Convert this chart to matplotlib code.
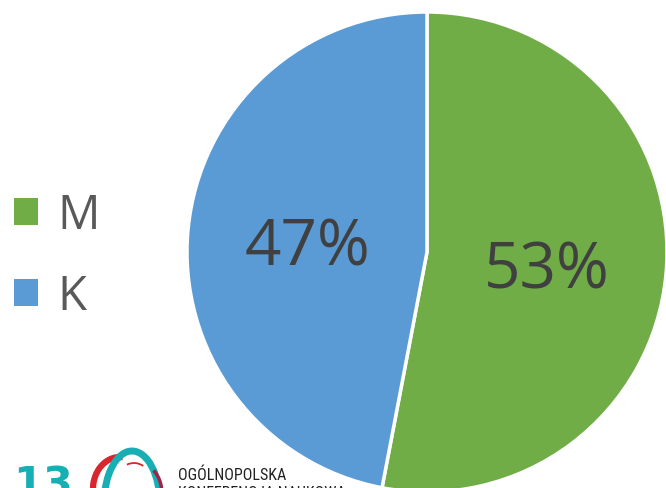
import matplotlib
matplotlib.use("Agg")
import matplotlib.pyplot as plt
from matplotlib import font_manager as fm
from matplotlib.patches import Patch, Arc

labels = ["M", "K"]
values = [53, 47]
colors = ["#70AD47", "#5B9BD5"]

W, H = 666, 489
fig = plt.figure(figsize=(W / 100, H / 100), dpi=100)
fig.patch.set_facecolor("white")

# pie axes: centre at (427, 253) px, radius 240 px
cx, cy, r = 427, 253, 240
ax = fig.add_axes([(cx - r) / W, (H - cy - r) / H, 2 * r / W, 2 * r / H])
ax.axis("off")

wedges, texts, autotexts = ax.pie(
    values, colors=colors, startangle=90, counterclock=False, radius=1,
    autopct=lambda p: f"{p:.0f}%", pctdistance=0.5,
    wedgeprops=dict(edgecolor="white", linewidth=2.5),
    textprops=dict(color="#404040", fontsize=46, family="Open Sans"),
)
ax.set_xlim(-1, 1)
ax.set_ylim(-1, 1)
ax.set_aspect("equal")
for t in autotexts:
    x, y = t.get_position()
    t.set_position((x, y - 0.028))

handles = [Patch(facecolor=c, edgecolor="none") for c in colors]
fig.legend(handles, labels, loc="upper left", bbox_to_anchor=(5 / W, (H - 183) / H),
           frameon=False, labelcolor="#595959",
           handlelength=0.5, handleheight=0.5, handletextpad=0.4,
           labelspacing=0.72, borderaxespad=0, borderpad=0.2,
           prop=dict(family="Open Sans", size=34))


def narrow_font():
    """Pick a condensed face if one is installed, else a plain sans."""
    for fam in ["Liberation Sans Narrow", "Roboto Condensed", "Open Sans Condensed"]:
        try:
            fm.findfont(fm.FontProperties(family=fam), fallback_to_default=False)
            return dict(family=fam, size=11.5)
        except ValueError:
            pass
    path = fm.findfont(fm.FontProperties(family="DejaVu Sans", stretch="condensed"))
    if "Condensed" in path:
        return dict(family="DejaVu Sans", stretch="condensed", size=10.5)
    return dict(family="Liberation Sans", size=10)


# conference logo in the lower left corner
fig.text(13 / W, (H - 498) / H, "13", color="#17AFB3", fontsize=31,
         fontweight="bold", family="DejaVu Sans", va="baseline", ha="left")
logo_font = fm.FontProperties(**narrow_font())
fig.text(178 / W, (H - 480) / H, "OGÓLNOPOLSKA", color="#222222",
         fontproperties=logo_font, va="baseline", ha="left")
fig.text(178 / W, (H - 498) / H, "KONFERENCJA NAUKOWA", color="#222222",
         fontproperties=logo_font, va="baseline", ha="left")

lax = fig.add_axes([0, 0, 1, 1], facecolor="none")
lax.set_xlim(0, W)
lax.set_ylim(0, H)
lax.axis("off")


def arc(x, y, w, h, t1, t2, color, lw):
    lax.add_patch(Arc((x, H - y), w, h, theta1=t1, theta2=t2, color=color, lw=lw))


arc(120, 490, 54, 64, 85, 200, "#D9252E", 4.5)
arc(132, 505, 56, 106, 20, 200, "#17AFB3", 5)
arc(134, 478, 30, 28, 50, 120, "#D9252E", 1.3)
arc(140, 495, 44, 60, 0, 60, "#A3224A", 2.5)

fig.savefig("out.png", dpi=100)
